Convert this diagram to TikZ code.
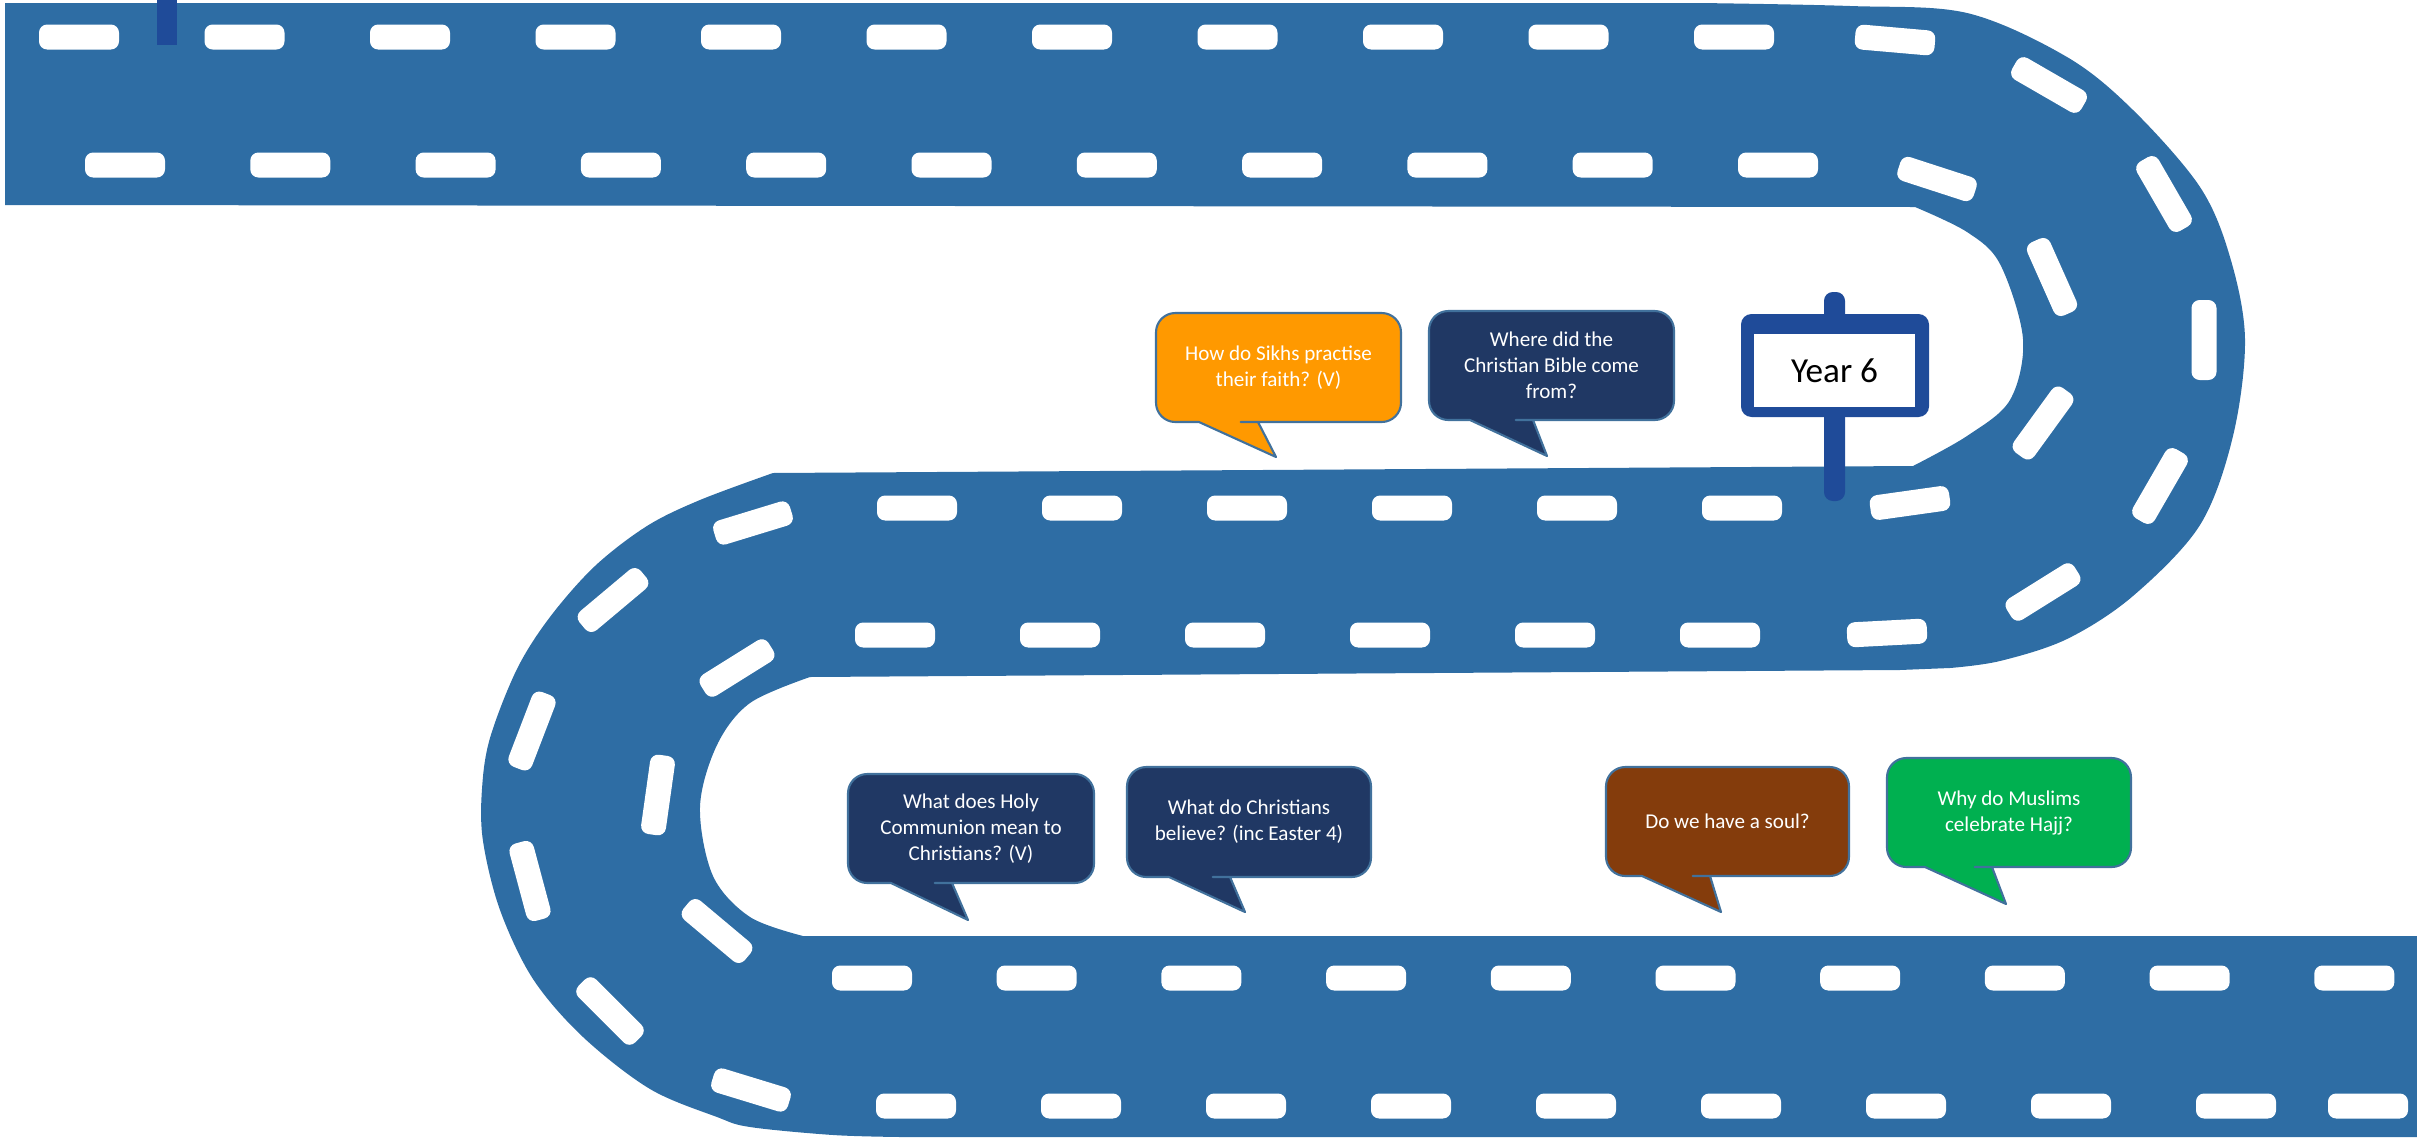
\documentclass[tikz,border=0pt]{standalone}
\usepackage{fontspec}
\setmainfont{Carlito}
\definecolor{road}{RGB}{46,109,164}
\definecolor{signblue}{RGB}{31,75,153}
\definecolor{navy}{RGB}{32,56,100}
\definecolor{bubedge}{RGB}{65,113,156}
\definecolor{qorange}{RGB}{255,153,0}
\definecolor{qbrown}{RGB}{132,60,12}
\definecolor{qgreen}{RGB}{0,176,80}
\tikzset{
  lanedash/.style={fill=white, rounded corners=2.3pt},
  bubble/.style={draw=bubedge, line width=0.6pt, line join=round},
  btext/.style={text=white, align=center, font=\fontsize{6}{7.4}\selectfont, inner sep=0pt},
  roadfill/.style={fill=road},
  signpart/.style={fill=signblue},
}
% x, y, canvas angle
\newcommand\dashat[3]{\fill[lanedash, rotate around={#3:({#1},{#2})}] ({#1-40},{#2-12.5}) rectangle ({#1+40},{#2+12.5});}
% colour, x1, y1, x2, y2, tail base left, tail base right, tip x, tip y
\newcommand\speech[9]{\draw[bubble, fill=#1] (#8,#9) -- (#6,#5) -- ({#6-2},#5) [rounded corners=5.5pt] -- (#2,#5) -- (#2,#3) -- (#4,#3) -- (#4,#5) -- ({#7+2},#5) [sharp corners] -- (#7,#5) -- cycle;}
\begin{document}
\begin{tikzpicture}[x=0.01cm, y=-0.01cm]
\useasboundingbox (0,0) rectangle (2417,1139);
% road
\fill[roadfill] (5,3) -- (1700,3)
  -- plot[smooth, tension=0.55] coordinates {(1700,3) (1850,6) (1967,13) (2067,57) (2133,110) (2200,187) (2230,257) (2245,339) (2233,436) (2200,525) (2133,596) (2067,639) (2000,661) (1950,668)}
  -- (1900,670) -- (810,677)
  -- plot[smooth, tension=0.55] coordinates {(810,677) (750,703) (717,745) (700,807) (713,876) (750,917) (803,936)}
  -- (2417,936) -- (2417,1137) -- (900,1137)
  -- plot[smooth, tension=0.55] coordinates {(900,1137) (833,1135) (750,1127) (717,1117) (650,1089) (583,1037) (533,979) (500,910) (483,841) (482,789) (490,738) (517,669) (550,617) (595,566) (647,526) (700,500) (773,473)}
  -- (1913,466)
  -- plot[smooth, tension=0.55] coordinates {(1913,466) (1967,436) (2010,400) (2023,339) (2000,264) (1967,232) (1915,207)}
  -- (5,205) -- cycle;
% lane markings: straight parts
\foreach \k in {0,...,10} {\dashat{79+165.5*\k}{37}{0}}
\foreach \k in {0,...,10} {\dashat{125+165.3*\k}{165}{0}}
\foreach \k in {0,...,5} {\dashat{917+165*\k}{508}{0}}
\foreach \k in {0,...,5} {\dashat{895+165*\k}{635}{0}}
\foreach \k in {0,...,9} {\dashat{872+164.7*\k}{978}{0}}
\foreach \k in {0,...,8} {\dashat{916+165*\k}{1106}{0}}
\dashat{2368}{1106}{0}
% lane markings: bends
\foreach \x/\y/\a in {1895/40/-5, 2049/85/-30, 2164/194/-60, 2204/340/90, 2160/486/60, 2043/592/32, 1887/633/3,
  1937/179/-18, 2052/277/-66, 2043/423/54, 1910/503/8,
  737/668/32, 658/795/-98, 717/931/-40,
  753/523/17, 613/600/40, 532/731/69, 530/881/-75, 610/1011/-45, 751/1090/-17}
  {\dashat{\x}{\y}{\a}}
% post of a sign at the top edge
\fill[signpart] (157,0) rectangle (177,45);
% Year 6 sign
\fill[signpart, rounded corners=2.5pt] (1824,292) rectangle (1845,501);
\fill[signpart, rounded corners=3pt] (1741,314) rectangle (1929,417);
\fill[white] (1754,334) rectangle (1915,407);
\node[font=\fontsize{10}{12}\selectfont, inner sep=0pt] (y6) at (1834.5,370.5) {Year 6};
% speech bubbles
\speech{qorange}{1156}{313}{1401}{422}{1199}{1258}{1276}{457}
\node[btext] (b1) at (1278.5,367.5) {How do Sikhs practise\\their faith? (V)};
\speech{navy}{1429}{311}{1674}{420}{1470}{1533}{1547}{456}
\node[btext] (b2) at (1551.5,365.5) {Where did the\\Christian Bible come\\from?};
\speech{navy}{848}{774}{1094}{883}{891}{952}{968}{920}
\node[btext] (b3) at (971,828.5) {What does Holy\\Communion mean to\\Christians? (V)};
\speech{navy}{1127}{767}{1371}{877}{1169}{1230}{1245}{912}
\node[btext] (b4) at (1249,822) {What do Christians\\believe? (inc Easter 4)};
\speech{qbrown}{1606}{767}{1849}{876}{1642}{1710}{1721}{912}
\node[btext] (b5) at (1727.5,821.5) {Do we have a soul?};
\speech{qgreen}{1887}{758}{2131}{867}{1925}{1992}{2006}{904}
\node[btext] (b6) at (2009,812.5) {Why do Muslims\\celebrate Hajj?};
\end{tikzpicture}
\end{document}
